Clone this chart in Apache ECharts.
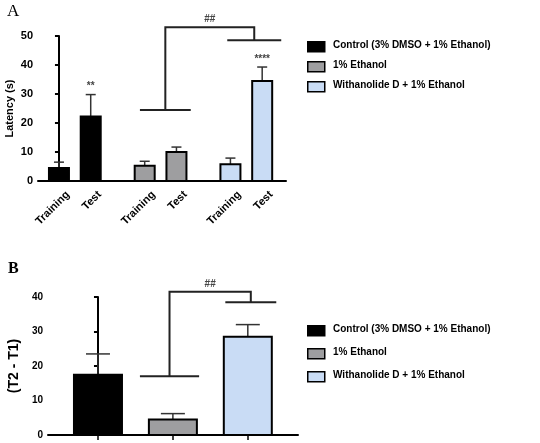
<!DOCTYPE html>
<html>
<head>
<meta charset="UTF-8">
<script src="https://cdn.jsdelivr.net/npm/echarts@6/dist/echarts.min.js"></script>
</head>
<body style="margin:0;background:#fff">
<div id="main" style="width:540px;height:443px"></div>
<script>
// panel A
var posA = [0, 1, 2.7, 3.7, 5.4, 6.4];
var labelsA = ['Training', 'Test', 'Training', 'Test', 'Training', 'Test'];
var meanA = [4.5, 22.2, 5.3, 10, 5.8, 34.5];
var errA = [2, 7.6, 1.5, 1.7, 2.1, 4.8];
var starsA = ['', '**', '', '', '', '****'];
var colorA = ['#000', '#000', '#9e9ea0', '#9e9ea0', '#c9dcf5', '#c9dcf5'];
// bracket: [x1, x2, y] horizontal segments
var brA = {left: [2.55, 4.15, 24.5], right: [5.3, 7.0, 48.5], top: 53, text: '##'};
// panel B
var posB = [0, 1, 2];
var meanB = [17.5, 4.5, 28.5];
var errB = [6, 1.7, 3.5];
var colorB = ['#000', '#9e9ea0', '#c9dcf5'];
var brB = {left: [0.56, 1.35, 17], right: [1.7, 2.38, 38.5], top: 41.5, text: '##'};

var legendNames = ['Control (3% DMSO + 1% Ethanol)', '1% Ethanol', 'Withanolide D + 1% Ethanol'];
var legendColors = ['#000', '#9e9ea0', '#c9dcf5'];

function barSeries(gi, pos, mean, err, colors, pxw, labels, stars) {
  var data = pos.map(function (p, i) { return [p, mean[i], err[i], i]; });
  return {
    type: 'custom', xAxisIndex: gi, yAxisIndex: gi, data: data, clip: false,
    renderItem: function (params, api) {
      var i = api.value(3);
      var base = api.coord([api.value(0), 0]);
      var top = api.coord([api.value(0), api.value(1)]);
      var eb = api.coord([api.value(0), api.value(1) + api.value(2)]);
      var ch = [
        {type: 'line', shape: {x1: top[0], y1: top[1], x2: eb[0], y2: eb[1]}, style: {stroke: '#333', lineWidth: 1.5}},
        {type: 'line', shape: {x1: top[0] - pxw / 4, y1: eb[1], x2: top[0] + pxw / 4, y2: eb[1]}, style: {stroke: '#333', lineWidth: 1.5}},
        {type: 'rect', shape: {x: base[0] - pxw / 2, y: top[1], width: pxw, height: base[1] - top[1]},
          style: {fill: colors[i], stroke: '#000', lineWidth: 2}}
      ];
      if (labels) ch.push({type: 'text', x: base[0] + 5, y: base[1] + 8, rotation: Math.PI / 4,
        style: {text: labels[i], align: 'right', verticalAlign: 'top', font: 'bold 11px Arial', fill: '#000'}});
      if (stars && stars[i]) ch.push({type: 'text', x: eb[0], y: eb[1] - 3,
        style: {text: stars[i], align: 'center', verticalAlign: 'bottom', font: 'bold 10px Arial', fill: '#444'}});
      return {type: 'group', children: ch};
    }
  };
}

function bracketSeries(gi, br) {
  return {
    type: 'custom', xAxisIndex: gi, yAxisIndex: gi, data: [[0]], clip: false,
    renderItem: function (params, api) {
      var L = br.left, R = br.right;
      var lm = (L[0] + L[1]) / 2, rm = (R[0] + R[1]) / 2;
      var a1 = api.coord([L[0], L[2]]), a2 = api.coord([L[1], L[2]]);
      var b1 = api.coord([R[0], R[2]]), b2 = api.coord([R[1], R[2]]);
      var lt = api.coord([lm, br.top]), rt = api.coord([rm, br.top]);
      var lb = api.coord([lm, L[2]]), rb = api.coord([rm, R[2]]);
      var st = {stroke: '#222', lineWidth: 2, fill: null};
      return {type: 'group', children: [
        {type: 'line', shape: {x1: a1[0], y1: a1[1], x2: a2[0], y2: a2[1]}, style: st},
        {type: 'line', shape: {x1: b1[0], y1: b1[1], x2: b2[0], y2: b2[1]}, style: st},
        {type: 'polyline', shape: {points: [lb, lt, rt, rb]}, style: st},
        {type: 'text', x: (lt[0] + rt[0]) / 2, y: lt[1] - 3,
          style: {text: br.text, align: 'center', verticalAlign: 'bottom', font: 'bold 10px Arial', fill: '#444'}}
      ]};
    }
  };
}

var legendGraphics = [];
[[46, 20], [330, 23]].forEach(function (g) {
  legendNames.forEach(function (n, i) {
    var y = g[0] + i * g[1];
    legendGraphics.push({type: 'rect', left: 307, top: y - 5, shape: {width: 17, height: 10},
      style: {fill: legendColors[i], stroke: '#000', lineWidth: 1.5}});
    legendGraphics.push({type: 'text', left: 333, top: y - 6,
      style: {text: n, font: 'bold 10px Arial', fill: '#000'}});
  });
});
legendGraphics.push({type: 'text', left: 7, top: 3, style: {text: 'A', font: '17px "Liberation Serif"', fill: '#000'}});
legendGraphics.push({type: 'text', left: 8, top: 261, style: {text: 'B', font: 'bold 16px "Liberation Serif"', fill: '#000'}});

var axisLine = {show: true, lineStyle: {color: '#000', width: 2}};
var chart = echarts.init(document.getElementById('main'));
chart.setOption({
  animation: false,
  graphic: legendGraphics,
  grid: [
    {left: 38, top: 36, width: 248, height: 145},
    {left: 48, top: 297, width: 250, height: 138}
  ],
  xAxis: [
    {gridIndex: 0, type: 'value', min: -0.66, max: 7.15, axisLine: axisLine, axisTick: {show: false},
      axisLabel: {show: false}, splitLine: {show: false}},
    {gridIndex: 1, type: 'value', min: -0.667, max: 2.67, axisLine: axisLine,
      axisTick: {show: true, inside: false, length: 5, lineStyle: {width: 1.5, color: '#000'},
        customValues: posB},
      axisLabel: {show: false}, splitLine: {show: false}}
  ],
  yAxis: [
    {gridIndex: 0, type: 'value', min: 0, max: 50, interval: 10, axisLine: axisLine,
      axisTick: {show: true, length: 4, lineStyle: {width: 2}},
      axisLabel: {color: '#000', fontWeight: 'bold', fontSize: 11, fontFamily: 'Arial', margin: 5},
      splitLine: {show: false},
      name: 'Latency (s)', nameLocation: 'middle', nameGap: 23,
      nameTextStyle: {color: '#000', fontWeight: 'bold', fontSize: 11, fontFamily: 'Arial'}},
    {gridIndex: 1, type: 'value', min: 0, max: 40, interval: 10, axisLine: axisLine,
      axisTick: {show: true, length: 4, lineStyle: {width: 2}},
      axisLabel: {color: '#000', fontWeight: 'bold', fontSize: 10, fontFamily: 'Arial', margin: 5},
      splitLine: {show: false},
      name: '(T2 - T1)', nameLocation: 'middle', nameGap: 27,
      nameTextStyle: {color: '#000', fontWeight: 'bold', fontSize: 14, fontFamily: 'Arial'}}
  ],
  series: [
    barSeries(0, posA, meanA, errA, colorA, 20, labelsA, starsA),
    bracketSeries(0, brA),
    barSeries(1, posB, meanB, errB, colorB, 48, null, null),
    bracketSeries(1, brB)
  ]
});
</script>
</body>
</html>
